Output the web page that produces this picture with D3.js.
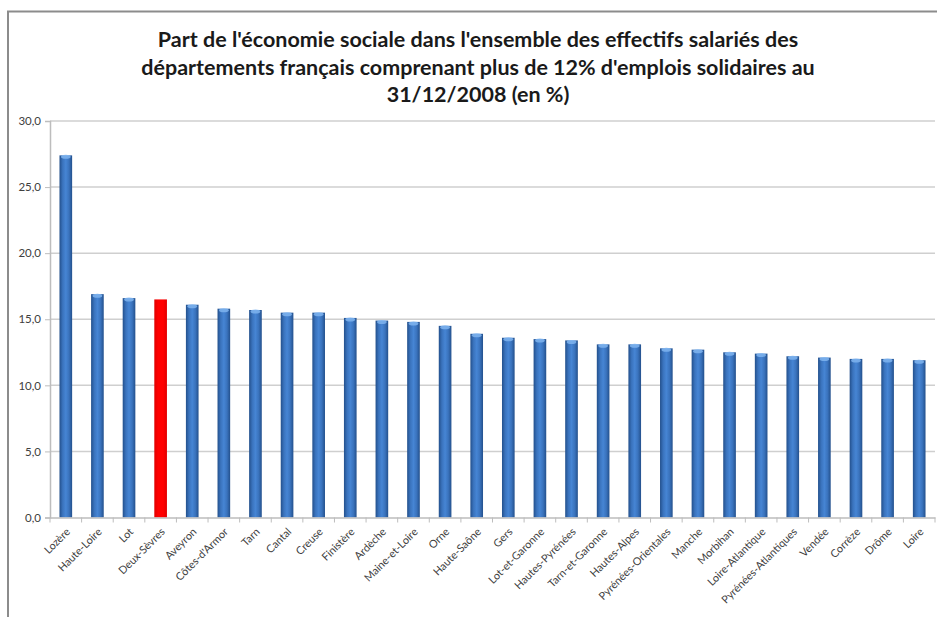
<!DOCTYPE html>
<html><head><meta charset="utf-8">
<script src="https://cdn.jsdelivr.net/npm/d3@7"></script>
<style>body{margin:0;background:#fff;}svg{display:block;}</style>
</head><body>
<script>
const categories = ["Lozère","Haute-Loire","Lot","Deux-Sèvres","Aveyron","Côtes-d'Armor","Tarn","Cantal","Creuse","Finistère","Ardèche","Maine-et-Loire","Orne","Haute-Saône","Gers","Lot-et-Garonne","Hautes-Pyrénées","Tarn-et-Garonne","Hautes-Alpes","Pyrénées-Orientales","Manche","Morbihan","Loire-Atlantique","Pyrénées-Atlantiques","Vendée","Corrèze","Drôme","Loire"];
const values = [27.4,16.9,16.6,16.5,16.1,15.8,15.7,15.5,15.5,15.1,14.9,14.8,14.5,13.9,13.6,13.5,13.4,13.1,13.1,12.8,12.7,12.5,12.4,12.2,12.1,12.0,12.0,11.9];
const highlighted = ["Deux-Sèvres"];
const yTicks = [0,5,10,15,20,25,30];
const titleLines = ["Part de l'économie sociale dans l'ensemble des effectifs salariés des","départements français comprenant plus de 12% d'emplois solidaires au","31/12/2008 (en %)"];

const W = 937, H = 617;
const svg = d3.select("body").append("svg").attr("width", W).attr("height", H);
const defs = svg.append("defs");
function grad(id, stops){
  const g = defs.append("linearGradient").attr("id", id).attr("x1","0%").attr("x2","100%").attr("y1","0%").attr("y2","0%");
  stops.forEach(s => g.append("stop").attr("offset", s[0]).attr("stop-color", s[1]));
}
grad("gBlue", [["0%","#23508c"],["25%","#3a73bd"],["50%","#4685d4"],["75%","#3a73bd"],["100%","#23508c"]]);
grad("gRed", [["0%","#e00000"],["30%","#ff0000"],["70%","#ff0000"],["100%","#e00000"]]);

// frame
svg.append("line").attr("x1",7).attr("x2",W).attr("y1",11.5).attr("y2",11.5).attr("stroke","#8c8c8c").attr("stroke-width",2);
svg.append("line").attr("x1",8).attr("x2",8).attr("y1",11).attr("y2",H).attr("stroke","#8c8c8c").attr("stroke-width",2);

const m = {left:50, right:935, top:121, bottom:517.5};
const x = d3.scaleBand().domain(categories).range([m.left, m.right]).paddingInner(0.6).paddingOuter(0.3);
const xb = d3.scaleBand().domain(categories).range([m.left, m.right]);
const y = d3.scaleLinear().domain([0,30]).range([m.bottom, m.top]);

// gridlines
svg.append("g").selectAll("line").data(yTicks.filter(d=>d>0)).join("line")
  .attr("x1", m.left).attr("x2", m.right).attr("y1", d=>y(d)).attr("y2", d=>y(d))
  .attr("stroke","#cfcfcf").attr("stroke-width",1.5);

// y axis
const yAxis = d3.axisLeft(y).tickValues(yTicks).tickSize(5).tickFormat(d => d3.format(".1f")(d).replace(".", ","));
const gy = svg.append("g").attr("transform", `translate(${m.left},0)`).call(yAxis);
gy.select(".domain").attr("stroke","#bdbdbd").attr("stroke-width",1.5);
gy.selectAll(".tick line").attr("stroke","#bdbdbd");
gy.selectAll(".tick text").attr("font-family","Lato, 'Open Sans', sans-serif").attr("font-size",11.5).attr("fill","#404040").attr("x",-9);

// bars
const bars = svg.append("g");
bars.selectAll("rect").data(categories).join("rect")
  .attr("x", d => x(d)).attr("width", x.bandwidth())
  .attr("y", (d,i) => y(values[i])).attr("height", (d,i) => m.bottom - y(values[i]))
  .attr("fill", d => highlighted.includes(d) ? "url(#gRed)" : "url(#gBlue)");
// caps
bars.selectAll("ellipse").data(categories.filter(d=>!highlighted.includes(d))).join("ellipse")
  .attr("cx", d => x(d) + x.bandwidth()/2).attr("cy", d => y(values[categories.indexOf(d)]) + 1.5)
  .attr("rx", x.bandwidth()/2 - 1.5).attr("ry", 2).attr("fill","#7fb4ef").attr("opacity",0.85);

// x axis
const xAxis = d3.axisBottom(xb).tickSize(0).tickFormat(d=>d);
const gx = svg.append("g").attr("transform", `translate(0,${m.bottom})`).call(xAxis);
gx.select(".domain").attr("stroke","#bdbdbd").attr("stroke-width",1.5);
gx.selectAll(".tick text")
  .attr("font-family","Lato, 'Open Sans', sans-serif").attr("font-size",10.8).attr("fill","#404040")
  .attr("text-anchor","end").attr("dy",0).attr("y",0)
  .attr("transform","translate(5,15) rotate(-45)");
// band boundary ticks
svg.append("g").selectAll("line").data(categories.concat(["__end"])).join("line")
  .attr("x1", (d,i) => m.left + i*xb.bandwidth()).attr("x2", (d,i) => m.left + i*xb.bandwidth())
  .attr("y1", m.bottom).attr("y2", m.bottom+5).attr("stroke","#bdbdbd");

// title
svg.append("g").selectAll("text").data(titleLines).join("text")
  .attr("x", 478).attr("y", (d,i) => 47 + i*27.5)
  .attr("text-anchor","middle").attr("font-family","Lato, 'Open Sans', sans-serif")
  .attr("font-weight","bold").attr("font-size",21.5).attr("fill","#1a1a1a").text(d=>d);
</script>
</body></html>
